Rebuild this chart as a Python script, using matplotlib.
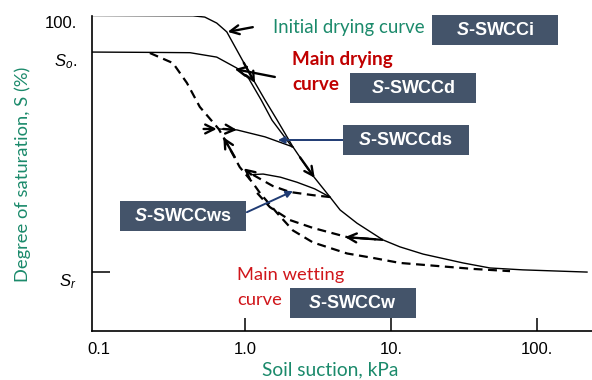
import matplotlib
matplotlib.use('Agg')
import matplotlib.pyplot as plt
from matplotlib.patches import Rectangle
from matplotlib.transforms import ScaledTranslation

plt.rcParams['mathtext.fontset'] = 'custom'
plt.rcParams['mathtext.it'] = 'Liberation Sans:italic'
plt.rcParams['mathtext.rm'] = 'Liberation Sans'
plt.rcParams['mathtext.bf'] = 'Liberation Sans:italic:bold'

# soil suction (kPa) and degree of saturation (%)
s_o = 88.3
s_r = 18.6

initial_suction = [0.09, 0.44, 0.53, 0.64, 0.75, 1.12, 1.37, 1.66, 2.13, 2.79, 3.82,
                   4.48, 5.85, 8.81, 11.5, 16.6, 31.1, 47.6, 80.0, 220.0]
initial_sat = [100.0, 99.9, 99.5, 97.6, 94.8, 80.2, 73.2, 66.8, 58.3, 50.3, 42.4,
               38.3, 34.1, 28.8, 26.6, 24.3, 21.5, 19.9, 19.3, 18.6]

drying_suction = [0.09, 0.22, 0.42, 0.64, 0.88, 1.06, 1.29, 1.53, 2.1]
drying_sat = [88.4, 88.3, 88.2, 86.8, 83.3, 80.0, 73.2, 66.8, 58.3]

wetting_suction = [0.223, 0.321, 0.40, 0.49, 0.66, 0.75, 0.92, 1.13, 1.27, 1.66, 2.13,
                   2.92, 5.0, 7.5, 11.5, 16.6, 36.5, 65.3]
wetting_sat = [88.1, 84.9, 78.6, 71.0, 64.0, 59.5, 51.9, 46.9, 43.6, 37.3, 31.8,
               28.0, 24.5, 23.1, 21.5, 20.9, 19.6, 18.9]

ds_suction = [0.66, 0.88, 1.37, 2.13]
ds_sat = [64.0, 63.7, 61.5, 58.3]

ws_dry_suction = [1.10, 1.33, 1.75, 2.27, 3.0, 3.82]
ws_dry_sat = [49.5, 49.7, 48.7, 47.1, 45.0, 42.4]

ws_wet_suction = [3.82, 2.92, 2.03, 1.55, 1.08]
ws_wet_sat = [42.4, 43.0, 44.0, 45.9, 50.0]

scan_wet_suction = [8.81, 5.0, 2.92, 2.03, 1.48, 1.21]
scan_wet_sat = [28.8, 29.7, 32.6, 35.1, 39.2, 43.7]

# direction arrows: (tail, head) in (suction, saturation)
black_arrows = [
    ((1.13, 96.3), (0.76, 94.8)),
    ((1.60, 80.5), (0.85, 83.0)),
    ((0.98, 85.0), (1.17, 78.6)),
    ((2.38, 55.0), (3.0, 48.5)),
    ((0.85, 55.1), (0.71, 61.4)),
    ((0.52, 64.0), (0.64, 64.0)),
    ((0.71, 64.0), (0.88, 63.7)),
    ((7.8, 29.0), (4.84, 29.7)),
    ((1.10, 49.6), (0.98, 51.5)),
]
blue_arrows = [
    ((4.69, 60.5), (1.68, 60.5)),
    ((1.03, 37.6), (2.13, 44.3)),
]

# label boxes: text, lower-left corner in axes fraction
box_labels = ['S-SWCCi', 'S-SWCCd', 'S-SWCCds', 'S-SWCCws', 'S-SWCCw']
box_corners = [(0.680, 0.906), (0.516, 0.722), (0.502, 0.557), (0.056, 0.316), (0.396, 0.040)]

x_ticks = [0.1, 1.0, 10.0, 100.0]
x_tick_labels = ['0.1', '1.0', '10.', '100.']
y_ticks = [s_r, s_o, 100.0]
y_tick_labels = ['$S_r$', '$S_o$.', '100.']

green = '#1b8a6b'
box_color = '#44546a'
navy = '#1f3b73'
dry_red = '#c00000'
wet_red = '#d0161b'

fig = plt.figure(figsize=(5.92, 3.80), dpi=100)
ax = fig.add_axes([92 / 592, 49.3 / 380, 500 / 592, 315.2 / 380])
ax.set_xscale('log')
ax.set_xlim(0.0895, 238)
ax.set_ylim(0, 100)

dash = (0, (4, 2.5))
ax.plot(initial_suction, initial_sat, color='black', lw=1.0)
ax.plot(drying_suction, drying_sat, color='black', lw=1.0)
ax.plot(ds_suction, ds_sat, color='black', lw=1.0)
ax.plot(ws_dry_suction, ws_dry_sat, color='black', lw=1.0)
ax.plot(wetting_suction, wetting_sat, color='black', lw=1.6, linestyle=dash)
ax.plot(ws_wet_suction, ws_wet_sat, color='black', lw=1.6, linestyle=dash)
ax.plot(scan_wet_suction, scan_wet_sat, color='black', lw=1.6, linestyle=dash)

for tail, head in black_arrows:
    ax.annotate('', xy=head, xytext=tail,
                arrowprops=dict(arrowstyle='->', color='black', lw=1.7, mutation_scale=16,
                                shrinkA=0, shrinkB=0))
for tail, head in blue_arrows:
    ax.annotate('', xy=head, xytext=tail,
                arrowprops=dict(arrowstyle='-|>', color=navy, lw=1.4, mutation_scale=10,
                                shrinkA=0, shrinkB=0))

for label, (x0, y0) in zip(box_labels, box_corners):
    ax.add_patch(Rectangle((x0, y0), 0.252, 0.095, transform=ax.transAxes,
                           facecolor=box_color, edgecolor='none', clip_on=False, zorder=3))
    ax.text(x0 + 0.126, y0 + 0.0475, r'$\mathbf{S}$' + label[1:], transform=ax.transAxes,
            ha='center', va='center', color='white', fontsize=13, fontweight='bold',
            family='Liberation Sans', zorder=4)

ax.text(0.362, 0.962, 'Initial drying curve', transform=ax.transAxes, ha='left', va='center',
        color=green, fontsize=13.4, family='Lato')
ax.text(0.400, 0.859, 'Main drying', transform=ax.transAxes, ha='left', va='center',
        color=dry_red, fontsize=13.6, fontweight='bold', family='Lato')
ax.text(0.400, 0.780, 'curve', transform=ax.transAxes, ha='left', va='center',
        color=dry_red, fontsize=13.6, fontweight='bold', family='Lato')
ax.text(0.290, 0.177, 'Main wetting', transform=ax.transAxes, ha='left', va='center',
        color=wet_red, fontsize=13.2, family='Lato')
ax.text(0.290, 0.097, 'curve', transform=ax.transAxes, ha='left', va='center',
        color=wet_red, fontsize=13.2, family='Lato')

for side in ['top', 'right']:
    ax.spines[side].set_visible(False)
for side in ['left', 'bottom']:
    ax.spines[side].set_linewidth(1.2)

ax.set_xticks(x_ticks)
ax.set_xticklabels(x_tick_labels, fontsize=12, family='Liberation Sans')
ax.xaxis.set_minor_locator(matplotlib.ticker.NullLocator())
ax.tick_params(axis='x', direction='in', length=9.5, width=1.1, pad=8, colors='black')
ax.xaxis.get_major_ticks()[0].tick1line.set_visible(False)

ax.set_yticks(y_ticks)
ax.set_yticklabels(y_tick_labels, fontsize=12, family='Liberation Sans')
ax.tick_params(axis='y', direction='in', length=13, width=1.1, pad=11)
for tick in ax.yaxis.get_major_ticks()[1:]:
    tick.tick1line.set_visible(False)
shift = ScaledTranslation(0, -7 / 100, fig.dpi_scale_trans)
for label in ax.get_yticklabels():
    label.set_transform(label.get_transform() + shift)

fig.text(23 / 592, 1 - 174 / 380, 'Degree of saturation, S (%)', rotation=90,
         ha='center', va='center', color=green, fontsize=13.2, family='Lato')
fig.text(330 / 592, 1 - 370 / 380, 'Soil suction, kPa', ha='center', va='center',
         color=green, fontsize=13.8, family='Lato')

fig.savefig('out.png', dpi=100)
